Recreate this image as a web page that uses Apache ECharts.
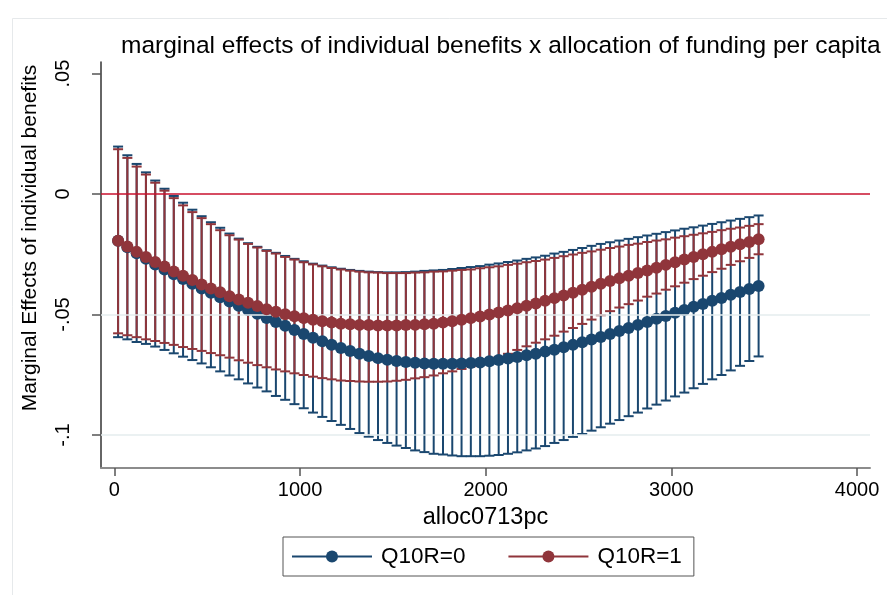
<!DOCTYPE html>
<html>
<head>
<meta charset="utf-8">
<script src="https://cdn.jsdelivr.net/npm/echarts@6/dist/echarts.min.js"></script>
<style>
  html, body { margin: 0; padding: 0; background: #fff; }
  #main { width: 887px; height: 595px; }
</style>
</head>
<body>
<div id="main"></div>
<script>
  // alloc0713pc values at which margins were evaluated
  var allocValues = [20, 70, 120, 170, 220, 270, 320, 370, 420, 470,
    520, 570, 620, 670, 720, 770, 820, 870, 920, 970,
    1020, 1070, 1120, 1170, 1220, 1270, 1320, 1370, 1420, 1470,
    1520, 1570, 1620, 1670, 1720, 1770, 1820, 1870, 1920, 1970,
    2020, 2070, 2120, 2170, 2220, 2270, 2320, 2370, 2420, 2470,
    2520, 2570, 2620, 2670, 2720, 2770, 2820, 2870, 2920, 2970,
    3020, 3070, 3120, 3170, 3220, 3270, 3320, 3370, 3420, 3470];

  // Q10R=0 : margin, lower and upper 95% CI
  var q0Margin = [-0.0194, -0.0221, -0.0246, -0.0269, -0.0292, -0.0313, -0.0333, -0.0353, -0.0372, -0.0392,
    -0.0410, -0.0428, -0.0446, -0.0464, -0.0481, -0.0497, -0.0514, -0.0531, -0.0547, -0.0564,
    -0.0581, -0.0596, -0.0611, -0.0625, -0.0639, -0.0651, -0.0663, -0.0672, -0.0681, -0.0688,
    -0.0693, -0.0697, -0.0700, -0.0703, -0.0704, -0.0704, -0.0704, -0.0703, -0.0701, -0.0699,
    -0.0694, -0.0689, -0.0683, -0.0676, -0.0669, -0.0663, -0.0654, -0.0646, -0.0636, -0.0626,
    -0.0615, -0.0604, -0.0593, -0.0581, -0.0568, -0.0556, -0.0543, -0.0531, -0.0518, -0.0506,
    -0.0493, -0.0481, -0.0468, -0.0456, -0.0443, -0.0431, -0.0418, -0.0407, -0.0394, -0.0382];
  var q0Lower = [-0.0594, -0.0603, -0.0614, -0.0622, -0.0633, -0.0647, -0.0661, -0.0675, -0.0689, -0.0703,
    -0.0719, -0.0736, -0.0753, -0.0769, -0.0786, -0.0803, -0.0819, -0.0838, -0.0854, -0.0872,
    -0.0889, -0.0907, -0.0925, -0.0942, -0.0958, -0.0975, -0.0992, -0.1007, -0.1021, -0.1033,
    -0.1044, -0.1054, -0.1064, -0.1071, -0.1078, -0.1081, -0.1085, -0.1088, -0.1088, -0.1088,
    -0.1086, -0.1083, -0.1078, -0.1072, -0.1064, -0.1056, -0.1046, -0.1033, -0.1021, -0.1008,
    -0.0996, -0.0982, -0.0968, -0.0953, -0.0938, -0.0922, -0.0907, -0.0890, -0.0874, -0.0857,
    -0.0840, -0.0824, -0.0806, -0.0788, -0.0769, -0.0751, -0.0732, -0.0713, -0.0693, -0.0674];
  var q0Upper = [0.0197, 0.0161, 0.0125, 0.0090, 0.0056, 0.0022, -0.0008, -0.0036, -0.0065, -0.0092,
    -0.0117, -0.0140, -0.0164, -0.0185, -0.0204, -0.0219, -0.0233, -0.0244, -0.0257, -0.0269,
    -0.0279, -0.0289, -0.0297, -0.0304, -0.0310, -0.0315, -0.0319, -0.0322, -0.0324, -0.0325,
    -0.0325, -0.0324, -0.0322, -0.0319, -0.0317, -0.0315, -0.0311, -0.0307, -0.0303, -0.0299,
    -0.0293, -0.0288, -0.0282, -0.0276, -0.0269, -0.0263, -0.0256, -0.0247, -0.0240, -0.0232,
    -0.0224, -0.0215, -0.0207, -0.0200, -0.0193, -0.0186, -0.0179, -0.0172, -0.0165, -0.0158,
    -0.0151, -0.0144, -0.0138, -0.0131, -0.0124, -0.0117, -0.0110, -0.0103, -0.0096, -0.0089];

  // Q10R=1 : margin, lower and upper 95% CI
  var q1Margin = [-0.0194, -0.0218, -0.0240, -0.0261, -0.0282, -0.0301, -0.0321, -0.0339, -0.0357, -0.0375,
    -0.0392, -0.0408, -0.0424, -0.0438, -0.0451, -0.0465, -0.0478, -0.0489, -0.0499, -0.0507,
    -0.0515, -0.0522, -0.0528, -0.0533, -0.0538, -0.0540, -0.0543, -0.0544, -0.0546, -0.0546,
    -0.0546, -0.0544, -0.0543, -0.0540, -0.0538, -0.0533, -0.0528, -0.0522, -0.0515, -0.0508,
    -0.0500, -0.0492, -0.0483, -0.0474, -0.0464, -0.0454, -0.0443, -0.0432, -0.0421, -0.0410,
    -0.0397, -0.0385, -0.0372, -0.0361, -0.0350, -0.0339, -0.0328, -0.0317, -0.0306, -0.0294,
    -0.0283, -0.0272, -0.0261, -0.0250, -0.0240, -0.0229, -0.0219, -0.0208, -0.0199, -0.0188];
  var q1Lower = [-0.0578, -0.0586, -0.0594, -0.0603, -0.0610, -0.0618, -0.0626, -0.0635, -0.0643, -0.0651,
    -0.0660, -0.0669, -0.0679, -0.0690, -0.0700, -0.0710, -0.0719, -0.0728, -0.0736, -0.0744,
    -0.0751, -0.0758, -0.0764, -0.0769, -0.0774, -0.0776, -0.0778, -0.0779, -0.0779, -0.0778,
    -0.0775, -0.0771, -0.0765, -0.0760, -0.0753, -0.0744, -0.0736, -0.0726, -0.0715, -0.0703,
    -0.0690, -0.0676, -0.0663, -0.0647, -0.0632, -0.0617, -0.0603, -0.0588, -0.0571, -0.0556,
    -0.0539, -0.0521, -0.0503, -0.0486, -0.0471, -0.0457, -0.0442, -0.0426, -0.0413, -0.0397,
    -0.0383, -0.0368, -0.0353, -0.0339, -0.0324, -0.0310, -0.0294, -0.0279, -0.0265, -0.0250];
  var q1Upper = [0.0186, 0.0150, 0.0114, 0.0081, 0.0047, 0.0014, -0.0017, -0.0047, -0.0075, -0.0100,
    -0.0125, -0.0150, -0.0171, -0.0189, -0.0207, -0.0222, -0.0236, -0.0247, -0.0261, -0.0272,
    -0.0283, -0.0292, -0.0300, -0.0307, -0.0313, -0.0318, -0.0322, -0.0325, -0.0326, -0.0328,
    -0.0328, -0.0328, -0.0326, -0.0325, -0.0322, -0.0321, -0.0318, -0.0315, -0.0313, -0.0308,
    -0.0304, -0.0300, -0.0294, -0.0289, -0.0283, -0.0278, -0.0272, -0.0265, -0.0258, -0.0251,
    -0.0244, -0.0238, -0.0231, -0.0224, -0.0218, -0.0211, -0.0206, -0.0199, -0.0193, -0.0188,
    -0.0181, -0.0175, -0.0169, -0.0163, -0.0157, -0.0150, -0.0144, -0.0139, -0.0132, -0.0125];

  var xTicks = [0, 1000, 2000, 3000, 4000];
  var yTicks = [-0.1, -0.05, 0, 0.05];
  var yGridLines = [-0.05, -0.1];

  var blue = '#1a476f';
  var red = '#90353b';
  var font = 'Liberation Sans';

  var chart = echarts.init(document.getElementById('main'));

  function pairs(ys) {
    return allocValues.map(function (x, i) { return [x, ys[i]]; });
  }
  function ciData(lo, hi) {
    return allocValues.map(function (x, i) { return [x, lo[i], hi[i]]; });
  }
  // rcap: vertical bar with caps at both ends
  function rcap(color) {
    return function (params, api) {
      var x = api.value(0);
      var pLo = api.coord([x, api.value(1)]);
      var pHi = api.coord([x, api.value(2)]);
      var hw = 5;
      var st = { stroke: color, lineWidth: 2 };
      return {
        type: 'group',
        children: [
          { type: 'line', shape: { x1: pLo[0], y1: pLo[1], x2: pHi[0], y2: pHi[1] }, style: st },
          { type: 'line', shape: { x1: pLo[0] - hw, y1: pLo[1], x2: pLo[0] + hw, y2: pLo[1] }, style: st },
          { type: 'line', shape: { x1: pHi[0] - hw, y1: pHi[1], x2: pHi[0] + hw, y2: pHi[1] }, style: st }
        ]
      };
    };
  }

  var option = {
    animation: false,
    backgroundColor: '#fff',
    textStyle: { fontFamily: font },
    graphic: [
      { type: 'line', shape: { x1: 12.5, y1: 18.5, x2: 887, y2: 18.5 }, style: { stroke: '#e6e9eb', lineWidth: 1 } },
      { type: 'line', shape: { x1: 12.5, y1: 18.5, x2: 12.5, y2: 595 }, style: { stroke: '#e6e9eb', lineWidth: 1 } }
    ],
    title: {
      text: 'marginal effects of individual benefits x allocation of funding per capita',
      left: 121,
      top: 34,
      padding: 0,
      textStyle: { fontFamily: font, fontWeight: 'normal', fontSize: 24.5, color: '#000' }
    },
    legend: {
      data: ['Q10R=0', 'Q10R=1'],
      left: 283,
      top: 537,
      padding: [8, 12, 8, 8],
      itemGap: 42,
      itemWidth: 80,
      itemHeight: 15,
      borderColor: '#555',
      borderWidth: 1,
      textStyle: { fontFamily: font, fontSize: 22.5, color: '#000', padding: [0, 0, 0, 4] }
    },
    grid: { left: 101, right: 17, top: 62, bottom: 127 },
    xAxis: {
      type: 'value',
      min: -72,
      max: 4070,
      name: 'alloc0713pc',
      nameLocation: 'middle',
      nameGap: 38,
      nameTextStyle: { fontFamily: font, fontSize: 23.5, color: '#000' },
      axisLine: { show: true, onZero: false, lineStyle: { color: '#8c8c8c', width: 2 } },
      axisTick: { show: true, customValues: xTicks, length: 8, lineStyle: { color: '#555', width: 1.5 } },
      axisLabel: {
        customValues: xTicks,
        fontSize: 20,
        color: '#000',
        margin: 12,
        formatter: function (v) { return String(v); }
      },
      splitLine: { show: false }
    },
    yAxis: {
      type: 'value',
      min: -0.1137,
      max: 0.0548,
      name: 'Marginal Effects of individual benefits',
      nameLocation: 'middle',
      nameGap: 60,
      nameTextStyle: { fontFamily: font, fontSize: 21, color: '#000', padding: [0, 0, 0, 54] },
      axisLine: { show: true, onZero: false, lineStyle: { color: '#333', width: 1.5 } },
      axisTick: { show: true, customValues: yTicks, length: 9, lineStyle: { color: '#555', width: 1.5 } },
      axisLabel: {
        customValues: yTicks,
        rotate: 90,
        fontSize: 20,
        color: '#000',
        margin: 28,
        formatter: function (v) {
          if (v === 0) return '0';
          return String(v).replace('0.', '.');
        }
      },
      splitLine: { show: false }
    },
    series: [
      {
        name: 'ci0',
        type: 'custom',
        renderItem: rcap(blue),
        encode: { x: 0, y: [1, 2] },
        data: ciData(q0Lower, q0Upper),
        z: 2,
        markLine: {
          silent: true,
          symbol: 'none',
          label: { show: false },
          data: yGridLines.map(function (v) {
            return { yAxis: v, lineStyle: { color: '#e4ecee', width: 1.5, type: 'solid' } };
          }).concat([{ yAxis: 0, lineStyle: { color: '#c8102e', width: 1.5, type: 'solid' } }])
        }
      },
      {
        name: 'ci1',
        type: 'custom',
        renderItem: rcap(red),
        encode: { x: 0, y: [1, 2] },
        data: ciData(q1Lower, q1Upper),
        z: 3
      },
      {
        name: 'Q10R=0',
        type: 'line',
        data: pairs(q0Margin),
        symbol: 'circle',
        symbolSize: 12,
        showAllSymbol: true,
        color: blue,
        lineStyle: { color: blue, width: 2.5 },
        itemStyle: { color: blue },
        z: 4
      },
      {
        name: 'Q10R=1',
        type: 'line',
        data: pairs(q1Margin),
        symbol: 'circle',
        symbolSize: 12,
        showAllSymbol: true,
        color: red,
        lineStyle: { color: red, width: 2.5 },
        itemStyle: { color: red },
        z: 5
      }
    ]
  };

  chart.setOption(option);
</script>
</body>
</html>
